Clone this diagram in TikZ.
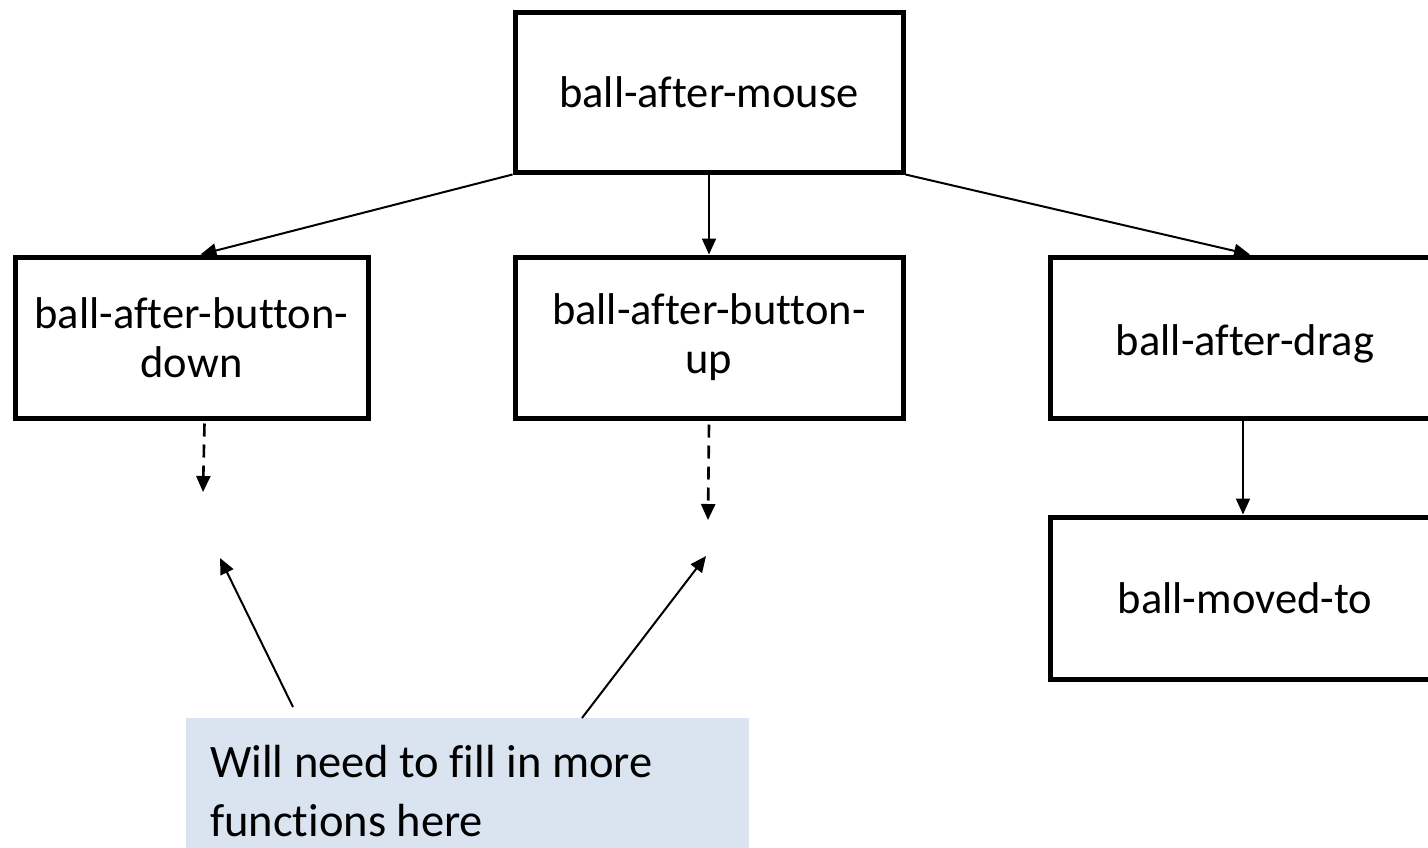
\documentclass[tikz,border=0pt]{standalone}
\usepackage{fontspec}
\setmainfont{Carlito}[Ligatures=NoCommon]
\usetikzlibrary{arrows.meta,calc}
\definecolor{calloutfill}{HTML}{DAE3F0}
\begin{document}
\begin{tikzpicture}[x=1pt,y=-1pt,
  fnbox/.style={draw=black,line width=5pt,rectangle,inner sep=0pt,align=center,
    font=\fontsize{44.5}{49}\selectfont},
  conn/.style={line width=2pt,-{Triangle[length=16pt,width=14pt]}},
  dconn/.style={conn,line width=2.6pt,dash pattern=on 13pt off 8pt}]
\clip (0,0) rectangle (1428,847);
\fill[white] (0,0) rectangle (1428,847);
\node[fnbox,minimum width=388pt,minimum height=160pt] (top) at (709,92) {ball-after-mouse};
\node[fnbox,minimum width=353pt,minimum height=161pt] (bdown) at (191.5,337.5) {ball-after-button-\\down};
\node[fnbox,minimum width=388pt,minimum height=161pt] (bup) at (709,337.5) {ball-after-button-\\up};
\node[fnbox,minimum width=390pt,minimum height=161pt,text height=46pt,text depth=10pt] (drag) at (1245,337.5) {ball-after-drag};
\node[fnbox,minimum width=390pt,minimum height=162pt] (moved) at (1245,598) {ball-moved-to};
\node[fill=calloutfill,minimum width=563pt,minimum height=140pt,anchor=north west,inner sep=0pt] (note) at (186,718) {};
\node[anchor=base west,align=left,inner sep=0pt,font=\fontsize{46.5}{59}\selectfont] (notetext) at (210,836) {Will need to fill in more\\functions here};
\coordinate (dA) at (203,492);
\coordinate (dB) at (708,520);
\coordinate (pA) at (220,558);
\coordinate (pB) at (706,556);
\coordinate (sA) at (293,707);
\coordinate (sB) at (582,718);
\draw[conn] (top.south west) -- ([xshift=9pt]bdown.north);
\draw[conn] (top.south) -- (bup.north);
\draw[conn] (top.south east) -- ([xshift=5pt]drag.north);
\draw[conn] ([xshift=-2pt]drag.south) -- ([xshift=-2pt]moved.north);
\draw[dconn] ([xshift=13pt,yshift=-3pt]bdown.south) -- (dA);
\draw[dconn] ([yshift=-4pt]bup.south) -- (dB);
\draw[conn] (sA) -- (pA);
\draw[conn] (sB) -- (pB);
\end{tikzpicture}
\end{document}
